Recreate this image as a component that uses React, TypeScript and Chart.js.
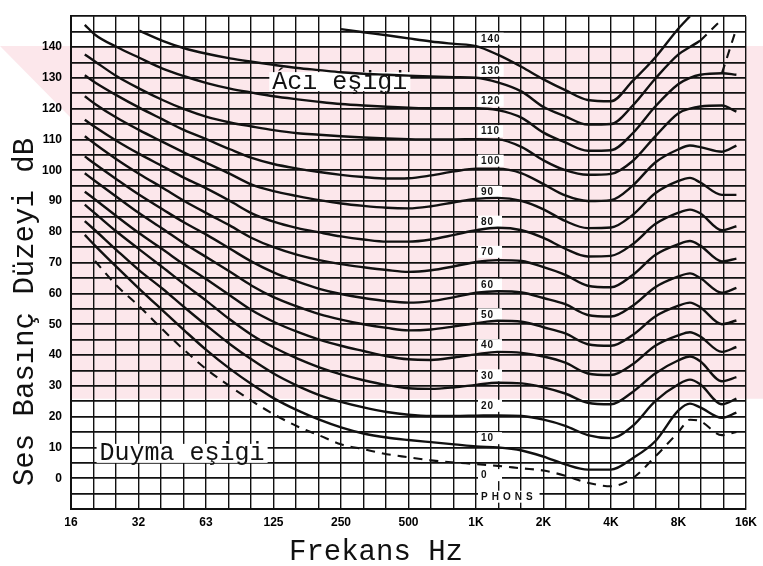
import React, { useEffect, useRef } from 'react';
import { Chart, registerables } from 'chart.js';

Chart.register(...registerables);

// Frequencies (Hz) at which the equal-loudness curves were read
const FREQS = [18, 20, 25, 31.5, 40, 50, 63, 80, 100, 125, 160, 200, 250, 315, 400, 500, 630, 800, 1000, 1250, 1600, 2000, 2500, 3150, 4000, 5000, 6300, 8000, 9000, 10000, 12500, 14500];

// Sound pressure level (dB) of each phon curve at FREQS
const PHON_140 = [null, null, null, null, null, null, null, null, null, null, null, null, 145.8, 144.8, 143.8, 142.8, 141.8, 141, 140.3, 137.5, 133.5, 129.5, 126, 122.8, 122.4, 129, 136.6, 146, 150, null, null, null];
const PHON_130 = [null, null, null, 145.3, 142, 139.6, 137.8, 136.3, 135.2, 134.2, 133.2, 132.5, 131.8, 131.3, 131, 130.7, 130.4, 130.2, 130, 128.5, 125.5, 120.5, 117.5, 114.8, 115, 121, 129.7, 137.6, 140, 142, null, null];
const PHON_120 = [147.2, 144, 140, 136.5, 133, 130.5, 128.3, 126.5, 125.2, 124, 123, 122.2, 121.5, 121, 120.6, 120.3, 120.1, 120.1, 120.1, 119.5, 117, 112.2, 109, 106.3, 106.5, 112, 120.7, 128, 130, 131, 131.5, 131];
const PHON_110 = [137.6, 135.3, 130.5, 126.5, 122.8, 119.8, 117.3, 115.5, 114.2, 113, 112, 111.5, 111, 110.6, 110.3, 110.1, 110, 110, 110.1, 110, 107.5, 103.2, 100, 98.5, 98.8, 103, 111, 118.5, 120, 120.7, 121, 119];
const PHON_100 = [130.8, 128.5, 124.3, 120.3, 116.5, 113, 110, 106.8, 104, 102, 100.5, 99.4, 98.5, 97.8, 97.3, 97.4, 98.3, 99.6, 100.5, 100.5, 99, 95.5, 91.8, 90, 90.3, 95, 102.5, 106.8, 108, 107.5, 106, 108];
const PHON_90 = [124, 121.5, 117, 113, 109.2, 105.7, 102.3, 98.8, 95.3, 93.2, 91.6, 90.3, 89.2, 88.4, 87.8, 87.6, 88.3, 89.6, 90.7, 91, 90, 87.3, 83.5, 81.2, 81.4, 85.5, 92.5, 96.5, 97.5, 96, 92, 92];
const PHON_80 = [116.4, 114, 109.5, 105.3, 101.3, 97.5, 94, 90, 86, 83.3, 81.2, 79.8, 78.5, 77.5, 76.8, 76.8, 77.5, 79, 80.5, 81.3, 80.5, 78, 74.5, 72, 72.2, 76, 82.5, 86.2, 87.2, 86, 80.5, 81.8];
const PHON_70 = [111, 108.5, 103.5, 98.8, 94.3, 90, 86, 82, 78, 75, 72.5, 70.8, 69.5, 68.5, 67.6, 67, 67.5, 68.8, 70.2, 70.8, 70.5, 68.5, 66, 62.5, 62, 66, 72.5, 76, 77, 75.5, 70.4, 71.3];
const PHON_60 = [104.5, 102, 97, 92, 87.3, 83, 79, 74.5, 70.3, 66.8, 63.8, 61.5, 59.8, 58.5, 57.5, 57, 57.5, 58.8, 60.2, 60.7, 60.3, 58.5, 56.5, 53, 52.5, 56, 62, 65.5, 66.5, 65, 60.2, 61.8];
const PHON_50 = [99, 96.5, 91.3, 86, 81, 76.2, 71.7, 67, 62.5, 58.8, 55.7, 53.3, 51.5, 50, 48.8, 48, 48.3, 49.3, 50.3, 51.1, 50.8, 49, 47, 43.5, 43, 46.5, 52.5, 56, 57, 55.5, 50, 51.2];
const PHON_40 = [93, 90.5, 85, 79.5, 74.3, 69.3, 64.5, 59.3, 54.5, 50.8, 47.5, 45, 43, 41.3, 39.6, 38.6, 38.4, 39.2, 40.2, 41, 40.7, 39.5, 37.5, 34, 33.5, 37, 43, 46.4, 47.4, 46, 41, 42.6];
const PHON_30 = [88.8, 86, 80, 74.3, 68.5, 63, 57.5, 51.5, 46.5, 42.5, 38.8, 36, 33.7, 31.8, 30.2, 29.2, 29, 29.5, 30.3, 31, 30.8, 29.5, 27.5, 24.5, 24, 28, 34, 38.3, 39.5, 38, 31.5, 32.8];
const PHON_20 = [83.5, 80.5, 74, 67.5, 61.5, 55.5, 49.5, 43.5, 38.5, 34, 30, 27, 24.8, 23, 21.5, 20.6, 20.2, 20.2, 20.3, 20.4, 20.2, 19, 17, 14, 13, 17, 25, 30.5, 32, 30.5, 24, 25.8];
const PHON_10 = [79, 75.5, 68.5, 61.5, 54.5, 48, 41.5, 35.5, 30.5, 26, 22, 19, 16.5, 14.5, 13.2, 12.4, 11.7, 11, 10.3, 10, 9, 7, 4.5, 2.8, 2.8, 6.5, 12, 22, 24.2, 23, 19.6, 21.3];
// Hearing threshold (dashed)
const THRESHOLD = [null, 70.5, 62.5, 55.8, 48.3, 41.6, 35.3, 29.8, 25.1, 20.8, 16.8, 13.9, 11, 9.4, 7.8, 6.8, 5.8, 5.1, 4.6, 4, 3.2, 2.5, 0.8, -1.5, -2.6, 0, 7, 15, 19, 18.5, 14, 15];
// Dashed extrapolations at top right [Hz, dB]
const EXT_130 = [[10000, 142], [12500, 149]];
const EXT_120 = [[12500, 131.5], [14500, 146]];

// Axis labels
const X_LABEL_VALUES = [15.625, 31.25, 62.5, 125, 250, 500, 1000, 2000, 4000, 8000, 16000];
const X_LABEL_TEXT = ['16', '32', '63', '125', '250', '500', '1K', '2K', '4K', '8K', '16K'];
const PHON_LABELS = ['140', '130', '120', '110', '100', '90', '80', '70', '60', '50', '40', '30', '20', '10', '0', 'PHONS'];
const PHON_LABEL_DB = [142.7, 132.4, 122.6, 112.7, 103.1, 93, 83.3, 73.5, 62.8, 53.2, 43.2, 33.4, 23.5, 13, 1, -6];

const GRID_FREQS = Array.from({ length: 31 }, (_, k) => 1000 * Math.pow(2, (k - 18) / 3));

const INK = '#111111';
const MONO = '"Liberation Mono", "DejaVu Sans Mono", monospace';
const SANS = '"Liberation Sans", Arial, sans-serif';

const mk = (vals: (number | null)[]) => FREQS.map((f, i) => ({ x: f, y: vals[i] }));

const solid = (label: string, vals: (number | null)[]) => ({
  label,
  data: mk(vals),
  borderColor: INK,
  borderWidth: 2.4,
  pointRadius: 0,
  fill: false,
  cubicInterpolationMode: 'monotone' as const,
  spanGaps: false,
});

const dashed = (label: string, data: { x: number; y: number | null }[]) => ({
  label,
  data,
  borderColor: INK,
  borderWidth: 2.1,
  borderDash: [9, 7],
  pointRadius: 0,
  fill: false,
  cubicInterpolationMode: 'monotone' as const,
  spanGaps: false,
});

const decor = {
  id: 'decor',
  beforeDraw(chart: any) {
    const { ctx, scales } = chart;
    const y = scales.y;
    const top = y.getPixelForValue(140.3);
    const bot = y.getPixelForValue(25.8);
    ctx.save();
    ctx.fillStyle = '#ffffff';
    ctx.fillRect(0, 0, chart.width, chart.height);
    ctx.fillStyle = '#fce7eb';
    ctx.beginPath();
    ctx.moveTo(0, top);
    ctx.lineTo(chart.width, top);
    ctx.lineTo(chart.width, bot);
    ctx.lineTo(chart.chartArea.left, bot);
    ctx.lineTo(chart.chartArea.left, top + 72);
    ctx.closePath();
    ctx.fill();
    ctx.restore();
  },
  beforeDatasetsDraw(chart: any) {
    const { ctx, scales } = chart;
    const xs = scales.x;
    const ys = scales.y;
    ctx.save();
    // Text annotations
    const notes = [
      { text: 'Ácı eşigi', f: 247, db: 128.6, size: 25 },
      { text: 'Duyma eşigi', f: 48.9, db: 7.9, size: 25 },
    ];
    notes.forEach((n) => {
      const cx = xs.getPixelForValue(n.f);
      const cy = ys.getPixelForValue(n.db);
      ctx.font = `${n.size}px ${MONO}`;
      const w = ctx.measureText(n.text).width;
      ctx.fillStyle = '#ffffff';
      ctx.fillRect(cx - w / 2 - 3, cy - 10, w + 6, 19);
      ctx.fillStyle = INK;
      ctx.textAlign = 'center';
      ctx.textBaseline = 'middle';
      ctx.fillText(n.text, cx, cy);
    });
    // Phon labels along 1 kHz
    const x0 = xs.getPixelForValue(1000) + 3;
    PHON_LABELS.forEach((t, i) => {
      const cy = ys.getPixelForValue(PHON_LABEL_DB[i]);
      ctx.font = `bold 10px ${SANS}`;
      (ctx as any).letterSpacing = t === 'PHONS' ? '4px' : '1px';
      const w = ctx.measureText(t).width;
      ctx.fillStyle = '#ffffff';
      ctx.fillRect(x0 - 1, cy - 6, Math.max(w + 6, 24), 12);
      ctx.fillStyle = INK;
      ctx.textAlign = 'left';
      ctx.textBaseline = 'middle';
      ctx.fillText(t, x0 + 2, cy + 0.5);
    });
    (ctx as any).letterSpacing = '0px';
    ctx.restore();
  },
  afterDraw(chart: any) {
    const { ctx } = chart;
    ctx.save();
    ctx.fillStyle = INK;
    ctx.font = `29px ${MONO}`;
    ctx.textAlign = 'center';
    ctx.textBaseline = 'alphabetic';
    ctx.fillText('Frekans Hz', 376, 560);
    ctx.translate(33, 312);
    ctx.rotate(-Math.PI / 2);
    ctx.fillText('Ses Basınç Düzeyi dB', 0, 0);
    ctx.restore();
  },
};

export default function App() {
  const ref = useRef<HTMLCanvasElement | null>(null);

  useEffect(() => {
    document.body.style.margin = '0';
    const canvas = ref.current;
    if (!canvas) return;

    const datasets: any[] = [
      solid('140', PHON_140),
      solid('130', PHON_130),
      solid('120', PHON_120),
      solid('110', PHON_110),
      solid('100', PHON_100),
      solid('90', PHON_90),
      solid('80', PHON_80),
      solid('70', PHON_70),
      solid('60', PHON_60),
      solid('50', PHON_50),
      solid('40', PHON_40),
      solid('30', PHON_30),
      solid('20', PHON_20),
      solid('10', PHON_10),
      dashed('Duyma eşigi', mk(THRESHOLD)),
      dashed('130 ext', EXT_130.map(([x, y]) => ({ x, y }))),
      dashed('120 ext', EXT_120.map(([x, y]) => ({ x, y }))),
    ];

    const chart = new Chart(canvas, {
      type: 'line',
      data: { datasets },
      options: {
        animation: false,
        responsive: false,
        devicePixelRatio: 1,
        layout: { padding: { left: 0, top: 8, right: 12, bottom: 0 } },
        plugins: {
          legend: { display: false },
          tooltip: { enabled: false },
        },
        scales: {
          x: {
            type: 'logarithmic',
            min: 15.625,
            max: 16000,
            afterBuildTicks: (s: any) => {
              s.ticks = GRID_FREQS.map((v) => ({ value: v }));
            },
            afterFit: (s: any) => {
              s.height = 57;
            },
            grid: { color: INK, lineWidth: 1.4, drawTicks: false },
            border: { display: true, color: INK, width: 2 },
            ticks: {
              autoSkip: false,
              maxRotation: 0,
              minRotation: 0,
              padding: 6,
              color: '#000',
              font: { family: SANS, size: 12, weight: 'bold' },
              callback: (v: any) => {
                const i = X_LABEL_VALUES.findIndex((t) => Math.abs(t - Number(v)) / t < 1e-4);
                return i >= 0 ? X_LABEL_TEXT[i] : '';
              },
            },
          },
          y: {
            type: 'linear',
            min: -10,
            max: 150,
            afterFit: (s: any) => {
              s.width = 71;
            },
            grid: { color: INK, lineWidth: 1.8, drawTicks: false },
            border: { display: true, color: INK, width: 2 },
            ticks: {
              stepSize: 5,
              autoSkip: false,
              padding: 9,
              color: '#000',
              font: { family: SANS, size: 12, weight: 'bold' },
              callback: (v: any) => {
                const n = Number(v);
                return n % 10 === 0 && n >= 0 && n <= 140 ? String(n) : '';
              },
            },
          },
        },
      },
      plugins: [decor],
    } as any);

    return () => chart.destroy();
  }, []);

  return <canvas ref={ref} width={763} height={566} style={{ display: 'block' }} />;
}
